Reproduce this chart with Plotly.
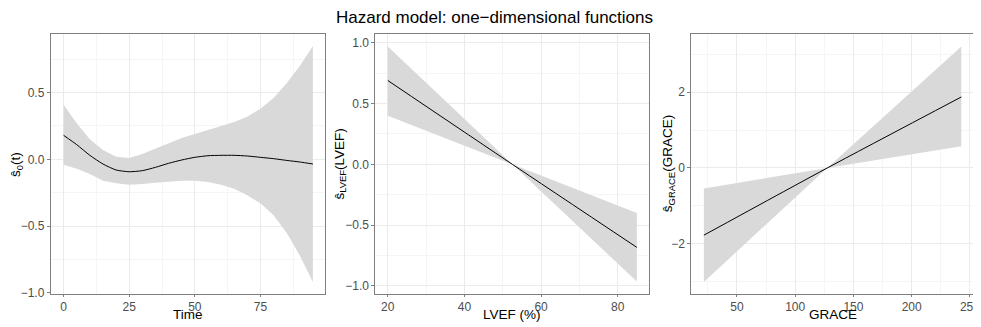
import plotly.graph_objects as go

# panel 1: baseline s0(t)
time = [0, 5, 10, 15, 20, 25, 30, 35, 40, 45, 50, 55, 60, 65, 70, 75, 80, 85, 90, 95]
s0 = [0.18, 0.11, 0.03, -0.035, -0.08, -0.093, -0.085, -0.06, -0.03, -0.005,
      0.015, 0.027, 0.03, 0.03, 0.025, 0.015, 0.005, -0.008, -0.02, -0.035]
s0_upper = [0.41, 0.27, 0.15, 0.07, 0.02, 0.01, 0.04, 0.08, 0.12, 0.16,
            0.19, 0.22, 0.25, 0.28, 0.32, 0.38, 0.46, 0.57, 0.70, 0.85]
s0_lower = [-0.04, -0.07, -0.11, -0.16, -0.18, -0.19, -0.185, -0.175, -0.165, -0.16,
            -0.16, -0.17, -0.19, -0.22, -0.27, -0.33, -0.42, -0.55, -0.72, -0.92]

# panel 2: LVEF
lvef = [20, 52.5, 85]
s_lvef = [0.69, 0.0, -0.684]
s_lvef_upper = [0.97, 0.0, -0.40]
s_lvef_lower = [0.40, 0.0, -0.965]

# panel 3: GRACE
grace = [21.6, 127.5, 242.6]
s_grace = [-1.77, 0.0, 1.87]
s_grace_upper = [-0.54, 0.0, 3.2]
s_grace_lower = [-3.0, 0.0, 0.57]

# figure + 8px body margin makes a 989x335 page, which ends up shown at 981x327
OFF = 8
W, H = 973, 319
SX, SY = 981 / 989, 327 / 335
def px(x):
  # reference pixel -> paper fraction (horizontal layout squeezed a little)
  xs = 8 + (x - 5) * 0.9907
  return (xs / SX - OFF) / W
def py(y):
  return 1 - (y / SY - OFF) / H

band_col = '#D9D9D9'
grid_col = '#EBEBEB'
border_col = '#7F7F7F'
tick_font = dict(family='Liberation Sans, Arial', size=12, color='#4D4D4D')
title_font = dict(family='Liberation Sans, Arial', size=13.5, color='black')

panels = [
  dict(x=time, y=s0, up=s0_upper, lo=s0_lower, dom=(48, 324),
       xr=[-4.9, 99.5], yr=[-1.007, 0.937], xt=[0, 25, 50, 75], yt=[-1.0, -0.5, 0.0, 0.5],
       xm=12.5, ym=0.25, ytf='.1f', xtitle='Time', ytitle='ŝ<sub>0</sub>(t)', ytx=14),
  dict(x=lvef, y=s_lvef, up=s_lvef_upper, lo=s_lvef_lower, dom=(375, 651),
       xr=[16.75, 88.25], yr=[-1.065, 1.07], xt=[20, 40, 60, 80], yt=[-1.0, -0.5, 0.0, 0.5, 1.0],
       xm=10, ym=0.25, ytf='.1f', xtitle='LVEF (%)', ytitle='ŝ<sub>LVEF</sub>(LVEF)', ytx=340),
  dict(x=grace, y=s_grace, up=s_grace_upper, lo=s_grace_lower, dom=(693.3, 978),
       xr=[10.8, 253.4], yr=[-3.31, 3.52], xt=[50, 100, 150, 200, 250], yt=[-2, 0, 2],
       xm=25, ym=1, ytf='d', xtitle='GRACE', ytitle='ŝ<sub>GRACE</sub>(GRACE)', ytx=671),
]

fig = go.Figure()
ybot, ytop = py(292), py(34)
for i, p in enumerate(panels):
  n = '' if i == 0 else str(i + 1)
  fig.add_trace(go.Scatter(x=p['x'] + p['x'][::-1], y=p['up'] + p['lo'][::-1],
                           fill='toself', fillcolor=band_col, line=dict(width=0),
                           mode='lines', hoverinfo='skip', showlegend=False,
                           xaxis='x' + n, yaxis='y' + n))
  fig.add_trace(go.Scatter(x=p['x'], y=p['y'], mode='lines',
                           line=dict(color='black', width=1, shape='spline', smoothing=0.6),
                           showlegend=False, xaxis='x' + n, yaxis='y' + n))
  fig.layout['xaxis' + n] = dict(
    domain=[px(p['dom'][0]), px(p['dom'][1])], anchor='y' + n, range=p['xr'],
    tickvals=p['xt'], tickfont=tick_font, ticks='outside', ticklen=2, tickcolor=border_col,
    ticklabeloverflow='allow',
    showgrid=True, gridcolor=grid_col, gridwidth=1, zeroline=False,
    minor=dict(dtick=p['xm'], tick0=0, showgrid=True, gridcolor='#F5F5F5', ticks=''),
    showline=True, mirror=True, linecolor=border_col, linewidth=1)
  fig.layout['yaxis' + n] = dict(
    domain=[ybot, ytop], anchor='x' + n, range=p['yr'],
    tickvals=p['yt'], tickformat=p['ytf'], tickfont=tick_font, ticks='outside', ticklen=3,
    tickcolor=border_col, showgrid=True, gridcolor=grid_col, gridwidth=1, zeroline=False,
    minor=dict(dtick=p['ym'], tick0=0, showgrid=True, gridcolor='#F5F5F5', ticks=''),
    showline=True, mirror=True, linecolor=border_col, linewidth=1)
  fig.add_annotation(text=p['ytitle'], textangle=-90, x=px(p['ytx']), y=(ybot + ytop) / 2,
                     xref='paper', yref='paper', xanchor='center', yanchor='middle',
                     showarrow=False, font=title_font)
  fig.add_annotation(text=p['xtitle'], x=(px(p['dom'][0]) + px(p['dom'][1])) / 2, y=0,
                     xref='paper', yref='paper', xanchor='center', yanchor='bottom', yshift=-3,
                     showarrow=False, font=title_font)

fig.update_layout(
  width=W, height=H,
  margin=dict(l=0, r=0, t=0, b=0),
  plot_bgcolor='white', paper_bgcolor='white',
  title=dict(text='Hazard model: one\u2212dimensional functions', x=0.5, xanchor='center',
             y=py(17), yanchor='middle',
             font=dict(family='Liberation Sans, Arial', size=17, color='black')),
  showlegend=False)

fig.write_html("out.html")
